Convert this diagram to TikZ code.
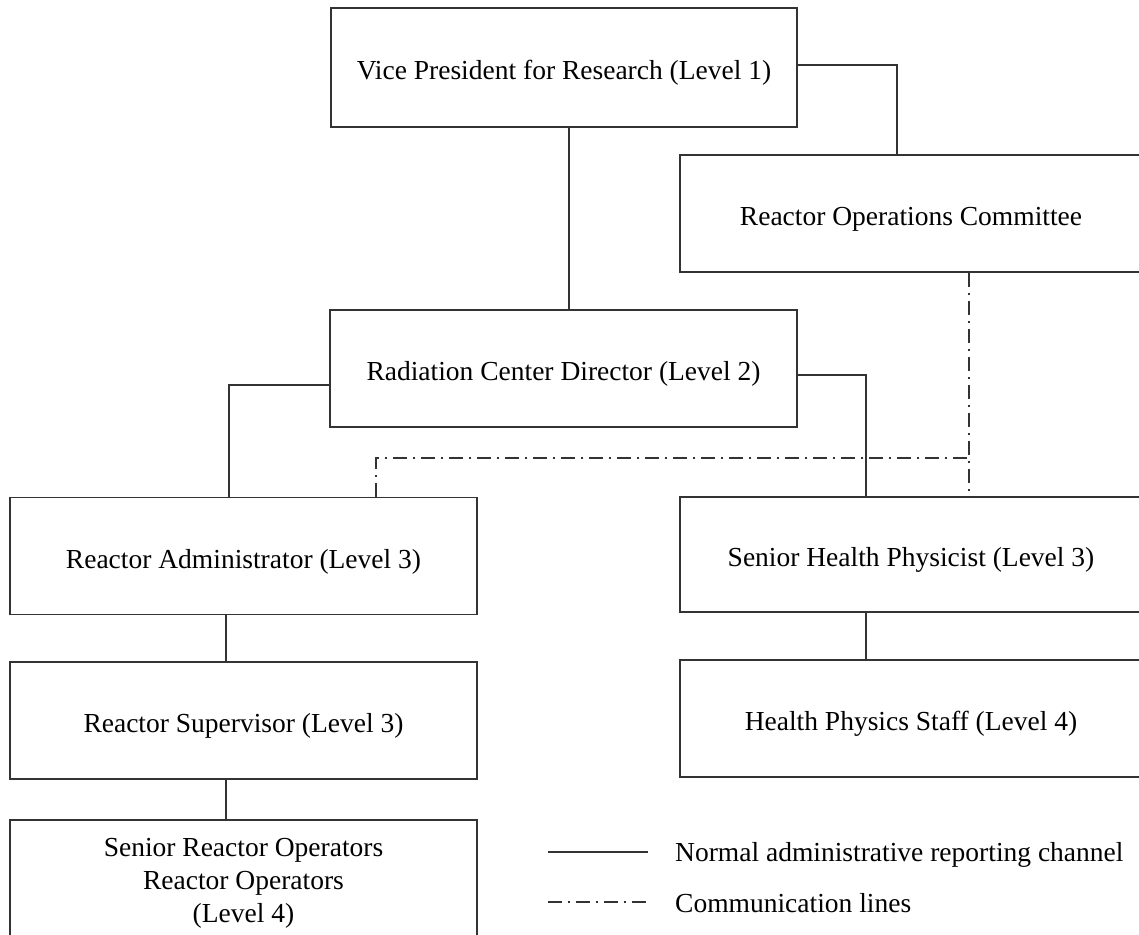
\documentclass[tikz,border=0pt]{standalone}
\usepackage{fontspec}
\setmainfont{Liberation Serif}
\begin{document}
\begin{tikzpicture}[x=1pt,y=-1pt,
  boxbase/.style={draw=black!80, line width=1.4pt, inner sep=0pt, align=center, font=\fontsize{27.5}{33}\selectfont},
  box/.style={boxbase, text height=30pt, text depth=6pt},
  adm/.style={draw=black!80, line width=1.3pt},
  comm/.style={draw=black!80, line width=1.1pt, dash pattern=on 14pt off 6pt on 2pt off 6pt},
  lgtext/.style={anchor=base west, inner sep=0pt, font=\fontsize{27.5}{33}\selectfont}]
\useasboundingbox (0,0) rectangle (1139,934);
\node[box, minimum width=466pt, minimum height=119pt] (vp) at (564,67.5) {Vice President for Research (Level 1)};
\node[box, minimum width=462pt, minimum height=117pt] (roc) at (911,213.5) {Reactor Operations Committee};
\node[box, minimum width=467pt, minimum height=117pt] (rcd) at (563.5,368.5) {Radiation Center Director (Level 2)};
\node[box, minimum width=467pt, minimum height=117pt] (ra) at (243.5,556) {Reactor Administrator (Level 3)};
\node[box, minimum width=462pt, minimum height=115pt] (shp) at (911,554.5) {Senior Health Physicist (Level 3)};
\node[box, minimum width=467pt, minimum height=117pt] (rs) at (243.5,720.5) {Reactor Supervisor (Level 3)};
\node[box, minimum width=462pt, minimum height=117pt] (hps) at (911,718.5) {Health Physics Staff (Level 4)};
\node[boxbase, minimum width=467pt, minimum height=126pt] (sro) at (243.5,883) {Senior Reactor Operators\\Reactor Operators\\(Level 4)};
% administrative lines
\draw[adm] (vp.south -| 569,0) -- (rcd.north -| 569,0);
\draw[adm] (vp.east |- 0,65) -| (roc.north -| 897,0);
\draw[adm] (rcd.west |- 0,385) -| (ra.north -| 229,0);
\draw[adm] (rcd.east |- 0,375) -| (shp.north -| 866,0);
\draw[adm] (ra.south -| 226,0) -- (rs.north -| 226,0);
\draw[adm] (rs.south -| 226,0) -- (sro.north -| 226,0);
\draw[adm] (shp.south -| 866,0) -- (hps.north -| 866,0);
% communication lines
\coordinate (cj) at (969,458);
\draw[comm] (roc.south -| 969,0) -- (shp.north -| 969,0);
\draw[comm] (ra.north -| 376,0) |- (cj);
% legend
\coordinate (la1) at (548,852);
\coordinate (la2) at (648,852);
\coordinate (lb1) at (548,902);
\coordinate (lb2) at (648,902);
\draw[adm] (la1) -- (la2);
\draw[comm] (lb1) -- (lb2);
\node[lgtext] (lt1) at (675,861) {Normal administrative reporting channel};
\node[lgtext] (lt2) at (675,912) {Communication lines};
\end{tikzpicture}
\end{document}
